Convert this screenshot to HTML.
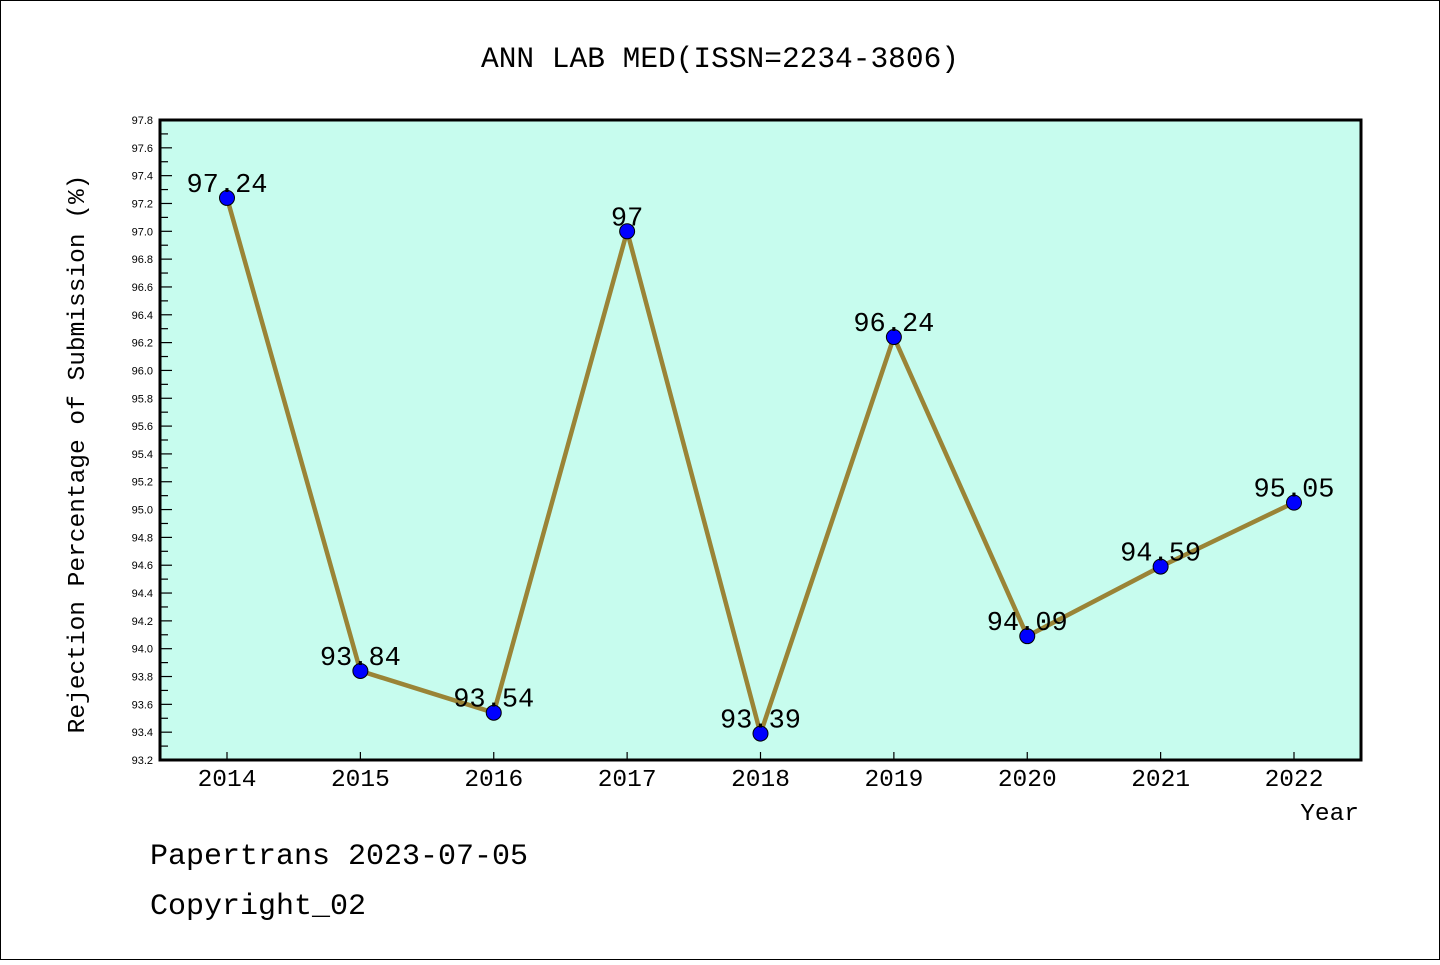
<!DOCTYPE html>
<html><head><meta charset="utf-8"><style>
html,body{margin:0;padding:0;background:#fff;}
svg text{font-family:"Liberation Mono",monospace;}
svg text.sans{font-family:"Liberation Sans",sans-serif;}
</style></head><body>
<svg id="chart" width="1440" height="960" xmlns="http://www.w3.org/2000/svg">
<rect x="0.5" y="0.5" width="1439" height="959" fill="#fff" stroke="#000" stroke-width="1"/>
<text x="720" y="67" font-size="29.5" text-anchor="middle">ANN LAB MED(ISSN=2234-3806)</text>
<rect x="160" y="120" width="1201" height="640" fill="#c7fcee"/>
<g id="ticks"></g>
<g id="series"></g>
<rect x="160" y="120" width="1201" height="640" fill="none" stroke="#000" stroke-width="3"/>
<text transform="translate(84,454) rotate(-90)" font-size="24.5" text-anchor="middle">Rejection Percentage of Submission (%)</text>
<text x="1359" y="820" font-size="24.5" text-anchor="end">Year</text>
<text x="150" y="864" font-size="30">Papertrans 2023-07-05</text>
<text x="150" y="914" font-size="30">Copyright_02</text>
</svg>
<script>
const years = ["2014","2015","2016","2017","2018","2019","2020","2021","2022"];
const values = [97.24,93.84,93.54,97,93.39,96.24,94.09,94.59,95.05];
const valueLabels = ["97.24","93.84","93.54","97","93.39","96.24","94.09","94.59","95.05"];
const yMin = 93.2, yMax = 97.8;
const NS="http://www.w3.org/2000/svg";
function y(v){return 120+(yMax-v)/(yMax-yMin)*640;}
function x(i){return 227+i*(1294-227)/(years.length-1);}
function mk(t,a,parent){const e=document.createElementNS(NS,t);for(const k in a)e.setAttribute(k,a[k]);parent.appendChild(e);return e;}
const tg=document.getElementById('ticks'), sg=document.getElementById('series');
for(let k=0;k<=46;k++){
  const v=yMin+k*0.1, yy=y(v), major=k%2===0;
  const l=mk('line',{x1:160,x2:major?172:168,y1:yy,y2:yy,stroke:'#000','stroke-width':1.2},tg);
  
  
  if(major){const t=mk('text',{x:153,y:yy+4,'font-size':11,'text-anchor':'end','class':'sans'},tg);t.textContent=v.toFixed(1);
  
  }
}
years.forEach((yr,i)=>{
  const l=mk('line',{x1:x(i),x2:x(i),y1:760,y2:752,stroke:'#000','stroke-width':1.2},tg);
  
  
  const t=mk('text',{x:x(i),y:786,'font-size':24.5,'text-anchor':'middle'},tg);t.textContent=yr;
  
  
});
const pts=values.map((v,i)=>x(i)+','+y(v)).join(' ');
const pl=mk('polyline',{points:pts,fill:'none',stroke:'#9a8436','stroke-width':4.5,'stroke-linejoin':'round'},sg);


values.forEach((v,i)=>{
  const c=mk('circle',{cx:x(i),cy:y(v),r:7.5,fill:'#0000ff',stroke:'#000','stroke-width':1},sg);
  
  
  const t=mk('text',{x:x(i),y:y(v)-6,'font-size':27,'text-anchor':'middle'},sg);t.textContent=valueLabels[i];
  
  
});
</script>
</body></html>
